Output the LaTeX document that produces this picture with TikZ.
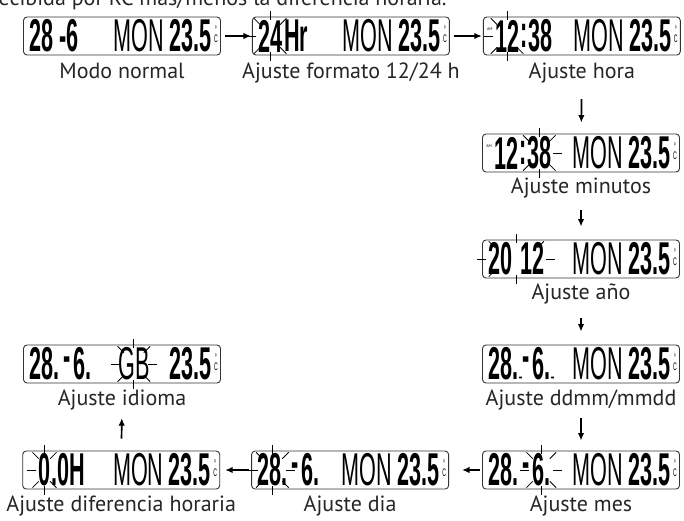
\documentclass[tikz,border=0pt]{standalone}
\usepackage{fontspec}
\setmainfont{PT Sans}
\newfontfamily\lcdfont[FakeStretch=0.47]{Liberation Sans}
\usetikzlibrary{positioning,arrows.meta}

% short flashing ticks round a segment group
\newcommand\blink[4]{%
  \foreach \a in {#2}
    \draw[flash] ([shift={(\a:#3 and #4)}]#1.center) -- ([shift={(\a:#3+9pt and #4+9pt)}]#1.center);
}
% little star sign next to a decimal point
\newcommand\starsign[1]{%
  \foreach \a in {0,60,120}
    \draw[line width=0.4pt] ([shift={(\a:1.6pt)}]#1) -- ([shift={(\a+180:1.6pt)}]#1);
}
% day.month group: 28. - 6.
\newcommand\lcddate[1]{%
  \node[digits, anchor=west] (#1-dd) at ([xshift=6pt]#1.west) {28.};
  \node[digits, anchor=west] (#1-sep) at ([xshift=4pt]#1-dd.east) {-};
  \node[digits, anchor=west] (#1-mm) at ([xshift=2pt]#1-sep.east) {6.};
}
% weekday, temperature and unit on the right
\newcommand\lcdtail[1]{%
  \node[digits, anchor=east] (#1-t) at ([xshift=-9pt]#1.east) {23.5};
  \node[monfont, anchor=east] (#1-w) at ([xshift=-5pt]#1-t.west) {MON};
  \node[unit, anchor=west] at ([shift={(2pt,2pt)}]#1-t.east) {°\\C};
}

\begin{document}
\begin{tikzpicture}
[x=1pt, y=1pt,
    lcd/.style={draw=black!80, line width=0.9pt, rounded corners=3.5pt,
        minimum width=197pt, minimum height=38pt, inner sep=0pt},
    caption/.style={font=\fontsize{22}{24}\selectfont, inner sep=0pt, text=black!85},
    digits/.style={font=\lcdfont\bfseries\fontsize{46}{46}\selectfont, inner sep=0pt},
    monfont/.style={font=\lcdfont\fontsize{46}{46}\selectfont, inner sep=0pt},
    unit/.style={font=\lcdfont\fontsize{11}{7}\selectfont, inner sep=0pt, align=center},
    tinytext/.style={font=\fontsize{4}{4}\selectfont, inner sep=0pt},
    flash/.style={line width=0.8pt},
    stepto/.style={-{Latex[length=7.5pt,width=6.5pt]}, line width=1.7pt},
    ]
    \useasboundingbox (0,0) rectangle (684,-520);
    \clip (0,0) rectangle (684,-520);

    % end of the line above, cut by the page
    \node[caption, anchor=base west] at (-9,-5) {recibida por RC más/menos la diferencia horaria.};

    % the displays
    \node[lcd] (normal) at (122,-36) {};
    \node[lcd, right=31pt of normal] (formato) {};
    \node[lcd, right=33pt of formato] (hora) {};
    \node[lcd] (minutos) at (581,-153) {};
    \node[lcd] (anio) at (581,-259) {};
    \node[lcd] (ddmm) at (581,-364) {};
    \node[lcd] (mes) at (581,-470) {};
    \node[lcd, left=33pt of mes] (dia) {};
    \node[lcd, left=31pt of dia] (difer) {};
    \node[lcd] (idioma) at (122,-364) {};

    % captions
    \node[caption, below=7pt of normal] (normal-c) {Modo normal};
    \node[caption, below=7pt of formato] (formato-c) {Ajuste formato 12/24 h};
    \node[caption, below=7pt of hora] (hora-c) {Ajuste hora};
    \node[caption, below=5pt of minutos] (minutos-c) {Ajuste minutos};
    \node[caption, below=5pt of anio] (anio-c) {Ajuste año};
    \node[caption, below=6pt of ddmm] (ddmm-c) {Ajuste ddmm/mmdd};
    \node[caption, below=6pt of mes] (mes-c) {Ajuste mes};
    \node[caption, below=6pt of dia] (dia-c) {Ajuste dia};
    \node[caption, below=6pt of difer] (difer-c) {Ajuste diferencia horaria};
    \node[caption, below=6pt of idioma] (idioma-c) {Ajuste idioma};

    % normal mode
    \node[digits, anchor=west] at ([xshift=6pt]normal.west) {28 -6};
    \lcdtail{normal}

    % 12/24 h
    \node[digits, anchor=west] (f24) at ([xshift=6pt]formato.west) {24};
    \node[digits, anchor=west] at ([xshift=1.5pt]f24.east) {Hr};
    \blink{f24}{45,90,135,180,225,270,315}{14pt}{16pt}
    \lcdtail{formato}

    % hour
    \node[tinytext, anchor=west] at ([shift={(4pt,7pt)}]hora.west) {AM};
    \node[digits, anchor=west] (h12) at ([xshift=12pt]hora.west) {12};
    \node[digits, anchor=west] (hc) at ([xshift=0.5pt]h12.east) {:};
    \node[digits, anchor=west] at ([xshift=0.5pt]hc.east) {38};
    \blink{h12}{90,135,180,225,270,315}{14pt}{16pt}
    \lcdtail{hora}

    % minutes
    \node[tinytext, anchor=west] at ([shift={(4pt,7pt)}]minutos.west) {AM};
    \node[digits, anchor=west] (m12) at ([xshift=12pt]minutos.west) {12};
    \node[digits, anchor=west] (mc) at ([xshift=0.5pt]m12.east) {:};
    \node[digits, anchor=west] (m38) at ([xshift=0.5pt]mc.east) {38};
    \blink{m38}{0,45,90,135,225,270,315}{14pt}{16pt}
    \lcdtail{minutos}

    % year
    \node[digits, anchor=west] (y2012) at ([xshift=6pt]anio.west) {20\hspace{8pt}12};
    \blink{y2012}{0,45,90,135,180,225,270}{30pt}{16pt}
    \lcdtail{anio}

    % date order
    \lcddate{ddmm}
    \coordinate (ddmm-s1) at ([shift={(2pt,3pt)}]ddmm-dd.south east);
    \coordinate (ddmm-s2) at ([shift={(2pt,3pt)}]ddmm-mm.south east);
    \starsign{ddmm-s1}
    \starsign{ddmm-s2}
    \lcdtail{ddmm}

    % month
    \lcddate{mes}
    \blink{mes-mm}{0,45,90,135,180,225,270,315}{12pt}{16pt}
    \lcdtail{mes}

    % day
    \lcddate{dia}
    \blink{dia-dd}{0,45,90,135,180,225,270,315}{14pt}{16pt}
    \lcdtail{dia}

    % time zone offset
    \node[digits, anchor=west] (z0) at ([xshift=16pt]difer.west) {0};
    \node[digits, anchor=west] at ([xshift=0.5pt]z0.east) {.0H};
    \blink{z0}{45,90,135,180,225,270,315}{8pt}{16pt}
    \lcdtail{difer}

    % language
    \lcddate{idioma}
    \node[digits, anchor=east] (idioma-t) at ([xshift=-9pt]idioma.east) {23.5};
    \node[unit, anchor=west] at ([shift={(2pt,2pt)}]idioma-t.east) {°\\C};
    \node[monfont, anchor=west] (lang) at ([xshift=95pt]idioma.west) {GB};
    \blink{lang}{0,45,90,135,180,225,270,315}{14pt}{16pt}

    % order of the steps
    \draw[stepto, shorten <=4pt, shorten >=1pt] (normal) -- (formato);
    \draw[stepto, shorten <=4pt, shorten >=1pt] (formato) -- (hora);
    \draw[stepto, shorten <=16pt, shorten >=11pt] (hora-c) -- (minutos);
    \draw[stepto, shorten <=12pt, shorten >=13pt] (minutos-c) -- (anio);
    \draw[stepto, shorten <=14pt, shorten >=13pt] (anio-c) -- (ddmm);
    \draw[stepto, shorten <=8pt, shorten >=10pt] (ddmm-c) -- (mes);
    \draw[stepto, shorten <=2pt, shorten >=13pt] (mes) -- (dia);
    \draw[stepto, shorten <=2pt, shorten >=5pt] (dia) -- (difer);
    \draw[stepto, shorten <=12pt, shorten >=8pt] (difer) -- (idioma-c);

\end{tikzpicture}
\end{document}
